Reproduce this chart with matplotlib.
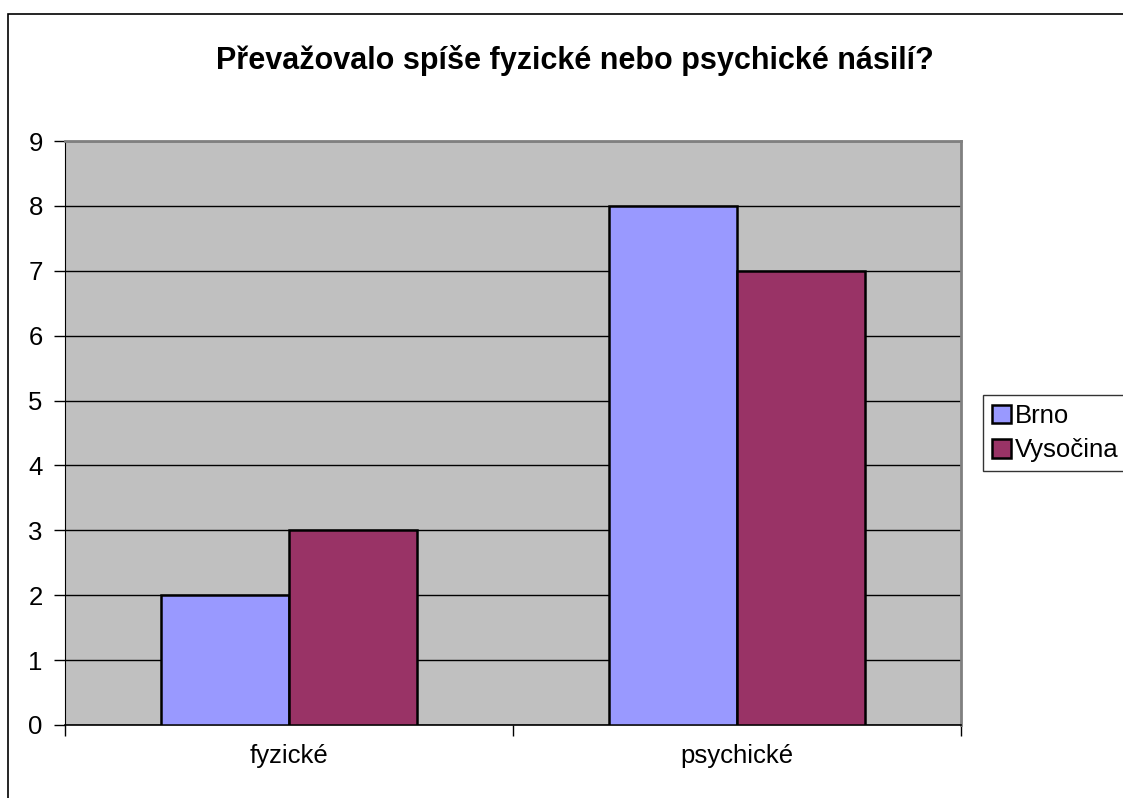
import numpy as np
import matplotlib.pyplot as plt
from matplotlib.patches import Rectangle

categories = ['fyzické', 'psychické']
brno = [2, 8]
vysocina = [3, 7]
series_names = ['Brno', 'Vysočina']
title = 'Převažovalo spíše fyzické nebo psychické násilí?'

plt.rcParams['font.family'] = ['Liberation Sans', 'DejaVu Sans']

fig = plt.figure(figsize=(11.23, 7.98), dpi=100)
# outer chart frame, runs off the right and bottom edges
fig.patches.append(Rectangle((8 / 1123, -0.1), 1.2, 1 - 14 / 798 + 0.1,
                             transform=fig.transFigure, fill=False,
                             edgecolor='black', linewidth=1.2))

ax = fig.add_axes([65 / 1123, 1 - 725 / 798, 896 / 1123, 584 / 798])
ax.set_facecolor('#C0C0C0')

x = np.arange(len(categories))
w = 0.2857
b1 = ax.bar(x - w / 2, brno, w, color='#9999FF', edgecolor='black', linewidth=1.8,
            label=series_names[0], zorder=3)
b2 = ax.bar(x + w / 2, vysocina, w, color='#993366', edgecolor='black', linewidth=1.8,
            label=series_names[1], zorder=3)

ax.set_xlim(-0.5, 1.5)
ax.set_ylim(0, 9)
ax.set_yticks(range(10))
ax.yaxis.grid(True, color='black', linewidth=1, zorder=1)
ax.set_axisbelow(True)

ax.set_xticks([-0.5, 0.5, 1.5])
ax.set_xticklabels([])
ax.set_xticks(x, minor=True)
ax.set_xticklabels(categories, minor=True)
ax.tick_params(axis='x', which='minor', length=0, pad=14, labelsize=18.5)
ax.tick_params(axis='x', which='major', length=8, width=1, direction='out')
ax.tick_params(axis='y', length=8, width=1, direction='out', pad=8, labelsize=18.5)

for s in ['top', 'right']:
    ax.spines[s].set_color('#808080')
    ax.spines[s].set_linewidth(2)
ax.spines['left'].set_color('black')
ax.spines['bottom'].set_color('black')
ax.spines['bottom'].set_linewidth(1.2)

fig.text(575 / 1123, 1 - 60 / 798, title, ha='center', va='center',
         fontsize=22, fontweight='bold')

leg = fig.legend(handles=[b1, b2], loc='upper left',
                 bbox_to_anchor=(983 / 1123, 1 - 395 / 798),
                 fontsize=18.5, frameon=True, fancybox=False,
                 edgecolor='black', handlelength=0.75, handleheight=0.75,
                 handletextpad=0.15, borderpad=0.35, labelspacing=0.4,
                 borderaxespad=0)
leg.get_frame().set_linewidth(1)

fig.savefig('out.png', dpi=100)
